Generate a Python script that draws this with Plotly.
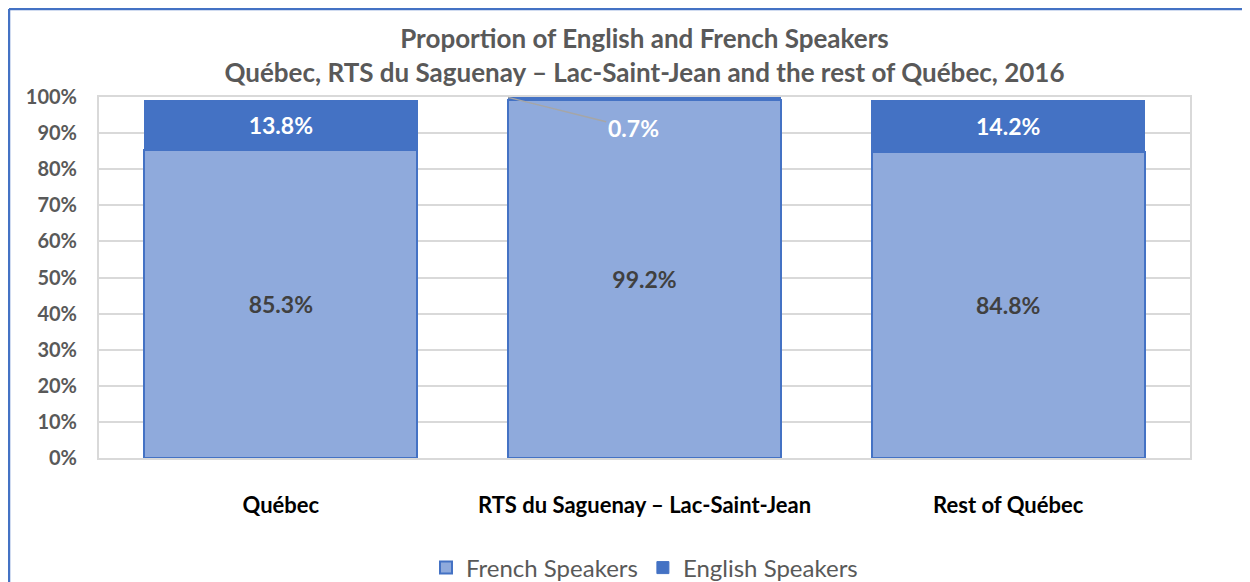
import plotly.graph_objects as go

categories = ["Québec", "RTS du Saguenay – Lac-Saint-Jean", "Rest of Québec"]
french = [85.3, 99.2, 84.8]
english = [13.8, 0.7, 14.2]
y_ticks = list(range(0, 101, 10))
y_tick_labels = [f"{v}%" for v in y_ticks]

FONT = "Lato"
# page body adds an 8px offset; margins are in figure coordinates
L, R, T, B = 91, 68, 89, 132
W, H = 1250, 582
pw, ph = W - L - R, H - T - B

fig = go.Figure()
fig.add_trace(go.Bar(
    x=categories, y=french, name="French Speakers",
    marker=dict(color="#8FAADC", line=dict(color="#4472C4", width=2)),
    text=[f"{v:.1f}%" for v in french], textposition="inside",
    insidetextanchor="middle",
    textfont=dict(family=FONT, size=23, color="#404040", weight="bold"),
))
eng_text = [f"{v:.1f}%" if v > 3 else "" for v in english]
fig.add_trace(go.Bar(
    x=categories, y=english, name="English Speakers",
    marker=dict(color="#4472C4", line=dict(color="#4472C4", width=1)),
    text=eng_text, textposition="inside", insidetextanchor="middle",
    textfont=dict(family=FONT, size=23, color="white", weight="bold"),
))

# leader-line label for the small English segment
fig.add_annotation(
    x=0.625, y=french[1] + english[1], xref="x", yref="y",
    text=f"<b>{english[1]:.1f}%</b>", showarrow=True, arrowhead=0,
    arrowcolor="#A6A6A6", arrowwidth=1.5,
    ax=125, ay=31, xanchor="center",
    font=dict(family=FONT, size=23, color="white"),
)

# outer chart frame (left and top edges visible)
fx = (1 - L) / pw
fy = 1 + (T - 1) / ph
fig.add_shape(type="line", xref="paper", yref="paper", x0=fx, x1=fx, y0=-2, y1=fy,
              line=dict(color="#4472C4", width=2.5))
fig.add_shape(type="line", xref="paper", yref="paper", x0=fx, x1=2, y0=fy, y1=fy,
              line=dict(color="#4472C4", width=2.5))

fig.update_layout(
    width=W, height=H,
    margin=dict(l=L, r=R, t=T, b=B, autoexpand=False),
    barmode="stack", bargap=0.25,
    plot_bgcolor="white", paper_bgcolor="white",
    title=dict(
        text="<b>Proportion of English and French Speakers<br>Québec, RTS du Saguenay – Lac-Saint-Jean and the rest of Québec, 2016</b>",
        x=(L + pw / 2) / W, xref="container", xanchor="center",
        y=1 - 40 / H, yref="container", yanchor="middle",
        font=dict(family=FONT, size=26, color="#595959"),
    ),
    legend=dict(orientation="h", x=0.5, xanchor="center",
                y=-(560 - (H - B)) / ph, yanchor="middle",
                font=dict(family=FONT, size=24, color="#595959"),
                traceorder="normal"),
    font=dict(family=FONT),
)
fig.update_yaxes(
    range=[0, 100], tickvals=y_ticks, ticktext=y_tick_labels,
    showgrid=True, gridcolor="#D9D9D9", gridwidth=1.5,
    showline=True, linecolor="#D9D9D9", linewidth=2, mirror=True,
    tickfont=dict(family=FONT, size=20, color="#595959", weight="bold"),
    ticks="", ticklabelstandoff=16, zeroline=False, automargin=False,
)
fig.update_xaxes(
    showline=True, linecolor="#D9D9D9", linewidth=2, mirror=True,
    tickfont=dict(family=FONT, size=22, color="black", weight="bold"),
    ticks="", ticklabelstandoff=27, automargin=False,
)

fig.write_html("out.html")
